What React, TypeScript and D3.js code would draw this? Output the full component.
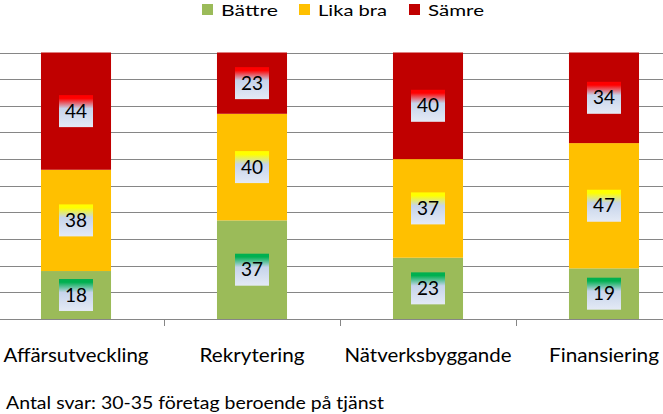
import React from "react";
import * as d3 from "d3";

const categories = ["Affärsutveckling", "Rekrytering", "Nätverksbyggande", "Finansiering"];
const seriesNames = ["Bättre", "Lika bra", "Sämre"];
const battre = [18, 37, 23, 19];
const likaBra = [38, 40, 37, 47];
const samre = [44, 23, 40, 34];
const yTicks = [0, 10, 20, 30, 40, 50, 60, 70, 80, 90, 100];
const footnote = "Antal svar: 30-35 företag beroende på tjänst";

const W = 663;
const H = 414;
const colors = ["#9bbb59", "#ffc000", "#c00000"];
const labelTopColors = ["#00b050", "#ffff00", "#ff0000"];
const catWidths = [145, 105, 167, 110];
const legendX = [202, 299, 409];
const legendW = [57, 69, 56];
const FONT = "Lato, 'Open Sans', sans-serif";

export default function App() {
  const x = d3
    .scaleBand<string>()
    .domain(categories)
    .range([-12, 692])
    .paddingInner(0.602)
    .paddingOuter(0.301);
  const y = d3.scaleLinear().domain([0, 100]).range([319, 52.5]);

  const rows = categories.map((c, i) => ({
    cat: c,
    s0: battre[i],
    s1: likaBra[i],
    s2: samre[i],
  }));
  const stack = d3.stack<any>().keys(["s0", "s1", "s2"]);
  const layers = stack(rows);

  const step = x.step();
  const boundaries = d3.range(categories.length + 1).map((i) => -12 + i * step);

  return (
    <svg
      width={W}
      height={H}
      style={{ position: "absolute", left: 0, top: 0, background: "#fff" }}
      fontFamily={FONT}
    >
      <defs>
        {labelTopColors.map((c, i) => (
          <linearGradient key={i} id={`lg${i}`} x1="0" y1="0" x2="0" y2="1">
            <stop offset="0" stopColor={c} />
            <stop offset="0.1" stopColor={c} />
            <stop offset="0.42" stopColor="#c6d4eb" />
            <stop offset="1" stopColor="#e4eaf5" />
          </linearGradient>
        ))}
      </defs>
      <rect x={0} y={0} width={W} height={H} fill="#fff" />
      {/* gridlines */}
      {yTicks.map((t) => (
        <line key={t} x1={0} x2={W} y1={Math.round(y(t)) + 0.5} y2={Math.round(y(t)) + 0.5} stroke="#868686" strokeWidth={1} />
      ))}
      {/* ticks on x axis */}
      {boundaries.map((b, i) => (
        <line key={i} x1={Math.round(b) + 0.5} x2={Math.round(b) + 0.5} y1={319} y2={326} stroke="#868686" strokeWidth={1} />
      ))}
      {/* bars */}
      {layers.map((layer, li) =>
        layer.map((d, di) => (
          <rect
            key={`${li}-${di}`}
            x={x(d.data.cat)}
            y={y(d[1])}
            width={x.bandwidth()}
            height={y(d[0]) - y(d[1])}
            fill={colors[li]}
          />
        ))
      )}
      {/* value labels */}
      {layers.map((layer, li) =>
        layer.map((d, di) => {
          const cx = (x(d.data.cat) as number) + x.bandwidth() / 2;
          const cy = (y(d[0]) + y(d[1])) / 2;
          const v = d[1] - d[0];
          return (
            <g key={`l${li}-${di}`}>
              <rect x={cx - 17} y={cy - 16} width={34} height={32} fill={`url(#lg${li})`} />
              <text x={cx} y={cy + 6.5} textAnchor="middle" fontSize={19} fill="#000">
                {v}
              </text>
            </g>
          );
        })
      )}
      {/* category labels */}
      {categories.map((c, i) => (
        <text
          key={c}
          x={(x(c) as number) + x.bandwidth() / 2}
          y={361.5}
          textAnchor="middle"
          fontSize={19}
          fill="#000"
          textLength={catWidths[i]}
          lengthAdjust="spacingAndGlyphs"
        >
          {c}
        </text>
      ))}
      {/* legend */}
      {seriesNames.map((s, i) => (
        <g key={s}>
          <rect x={legendX[i]} y={4} width={11} height={11} fill={colors[i]} />
          <text
            x={legendX[i] + 19}
            y={15.5}
            fontSize={16}
            fill="#000"
            textLength={legendW[i]}
            lengthAdjust="spacingAndGlyphs"
          >
            {s}
          </text>
        </g>
      ))}
      {/* footnote */}
      <text x={6} y={409} fontSize={17} fill="#000" textLength={378} lengthAdjust="spacingAndGlyphs">
        {footnote}
      </text>
    </svg>
  );
}
